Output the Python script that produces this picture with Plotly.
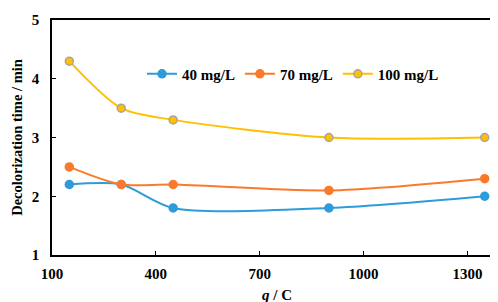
import plotly.graph_objects as go

q = [150, 300, 450, 900, 1350]
s40 = [2.2, 2.2, 1.8, 1.8, 2.0]
s70 = [2.5, 2.2, 2.2, 2.1, 2.3]
s100 = [4.3, 3.5, 3.3, 3.0, 3.0]
names = ["40 mg/L", "70 mg/L", "100 mg/L"]
x_ticks = [100, 400, 700, 1000, 1300]
y_ticks = [1, 2, 3, 4, 5]

FONT = "Liberation Serif"
fig = go.Figure()
styles = [
    ("#2E9BDA", "#2E9BDA"),
    ("#FA7A2C", "#FA7A2C"),
    ("#FFC000", "#A5A5A5"),
]
for ys, name, (col, edge) in zip([s40, s70, s100], names, styles):
    fig.add_trace(go.Scatter(
        x=q, y=ys, name=name, mode="lines+markers",
        line=dict(color=col, width=2, shape="spline", smoothing=0.8),
        marker=dict(size=8, color=col, line=dict(color=edge, width=1.5)),
    ))

fig.update_layout(
    width=498, height=302,
    margin=dict(l=44, r=4, t=12, b=55, autoexpand=False),
    paper_bgcolor="white", plot_bgcolor="white",
    font=dict(family=FONT, size=15, color="black"),
    showlegend=True,
    legend=dict(orientation="h", x=0.2, y=0.77, xanchor="left", yanchor="middle",
                bgcolor="rgba(0,0,0,0)", font=dict(family=FONT, size=15, weight="bold"),
                itemwidth=30, tracegroupgap=0),
)
fig.update_xaxes(
    range=[100, 1400], tickvals=x_ticks, ticktext=[f"<b>{v}</b>" for v in x_ticks],
    showline=True, linecolor="black", linewidth=1.5, mirror=True, automargin=False,
    ticks="inside", ticklen=4, tickcolor="black", showgrid=False, zeroline=False,
    ticklabelstandoff=4,
    title=dict(text="<b><i>q</i> / C</b>", font=dict(family=FONT, size=15), standoff=9),
)
fig.update_yaxes(
    range=[1, 5], tickvals=y_ticks, ticktext=[f"<b>{v}</b>" for v in y_ticks],
    showline=True, linecolor="black", linewidth=1.5, mirror=True, automargin=False,
    ticks="inside", ticklen=4, tickcolor="black", showgrid=False, zeroline=False,
    ticklabelstandoff=8,
    title=dict(text="<b>Decolorization time / min</b>", font=dict(family=FONT, size=14.5), standoff=6),
)
fig.write_html("out.html")
